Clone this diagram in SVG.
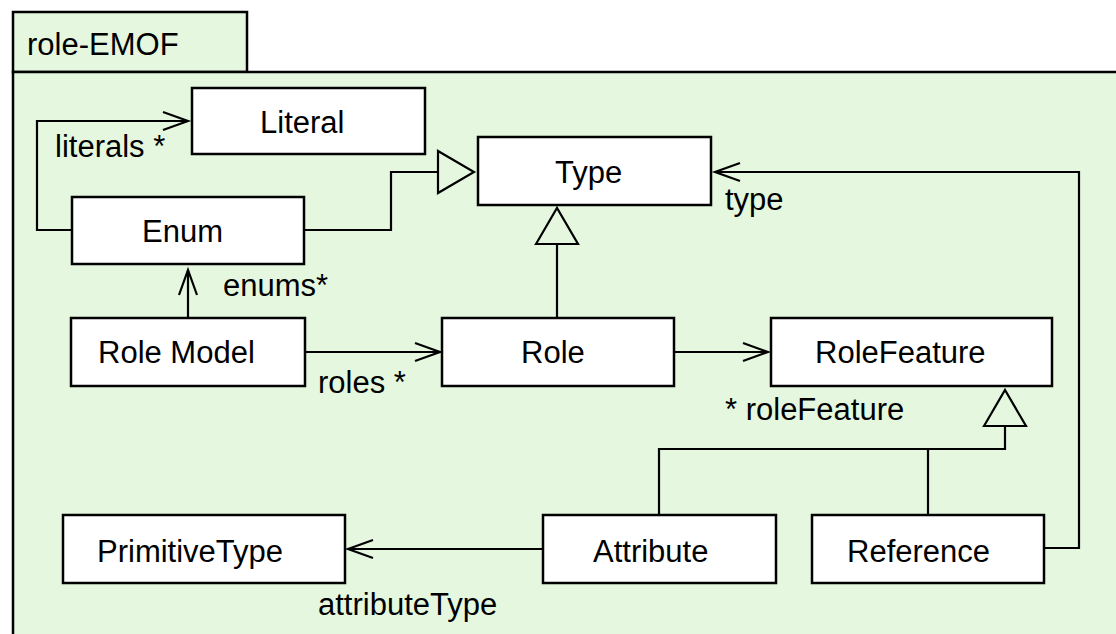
<svg xmlns="http://www.w3.org/2000/svg" width="1116" height="634" viewBox="0 0 1116 634">
  <style>
    .frame { fill: #e5f8df; stroke: #000; stroke-width: 2.5; }
    .box { fill: #fff; stroke: #000; stroke-width: 2.5; }
    .lbl { font-family: "Liberation Sans", Arial, sans-serif; font-size: 31px; fill: #000; }
    .edge { fill: none; stroke: #000; stroke-width: 2.2; }
  </style>
  <defs>
    <!-- navigable association end: open arrowhead -->
    <marker id="open" markerUnits="userSpaceOnUse" viewBox="-28 -12 32 24" markerWidth="32" markerHeight="24" refX="0" refY="0" orient="auto" overflow="visible">
      <path d="M-25,-9 L0,0 L-25,9" fill="none" stroke="#000" stroke-width="2.2"/>
    </marker>
    <!-- generalization: hollow triangle placed from the line end forward -->
    <marker id="gen" markerUnits="userSpaceOnUse" viewBox="-2 -24 42 48" markerWidth="42" markerHeight="48" refX="0" refY="0" orient="auto" overflow="visible">
      <path d="M0,-21 L36,0 L0,21 Z" fill="none" stroke="#000" stroke-width="2.2"/>
    </marker>
  </defs>

  <!-- package frame -->
  <g id="package">
    <rect class="frame" x="13" y="12" width="234" height="60"/>
    <rect class="frame" x="13" y="72" width="1120" height="580"/>
    <text class="lbl" x="27" y="55">role-EMOF</text>
  </g>

  <!-- connectors -->
  <g id="connectors">
    <polyline class="edge" points="72,230 37,230 37,121 188,121" marker-end="url(#open)"/>
    <polyline class="edge" points="304,230 391,230 391,172 438,172" marker-end="url(#gen)"/>
    <line class="edge" x1="188" y1="318" x2="188" y2="270" marker-end="url(#open)"/>
    <line class="edge" x1="557" y1="318" x2="557" y2="244" marker-end="url(#gen)"/>
    <line class="edge" x1="305" y1="352" x2="440" y2="352" marker-end="url(#open)"/>
    <line class="edge" x1="674" y1="352" x2="768" y2="352" marker-end="url(#open)"/>
    <polyline class="edge" points="1044,548 1079,548 1079,172 715,172" marker-end="url(#open)"/>
    <line class="edge" x1="543" y1="549" x2="348" y2="549" marker-end="url(#open)"/>
    <polyline class="edge" points="659,515 659,449 1005,449 1005,426" marker-end="url(#gen)"/>
    <line class="edge" x1="928" y1="515" x2="928" y2="449"/>

    <text class="lbl" x="55" y="157">literals *</text>
    <text class="lbl" x="223" y="296">enums*</text>
    <text class="lbl" x="725" y="210">type</text>
    <text class="lbl" x="318" y="393">roles *</text>
    <text class="lbl" x="725" y="420">* roleFeature</text>
    <text class="lbl" x="318" y="615">attributeType</text>
  </g>

  <!-- classes -->
  <g id="literal">
    <rect class="box" x="192" y="88" width="233" height="66"/>
    <text class="lbl" x="260" y="133">Literal</text>
  </g>
  <g id="type">
    <rect class="box" x="478" y="137" width="233" height="68"/>
    <text class="lbl" x="555" y="183">Type</text>
  </g>
  <g id="enum">
    <rect class="box" x="72" y="197" width="232" height="67"/>
    <text class="lbl" x="142" y="242">Enum</text>
  </g>
  <g id="role-model">
    <rect class="box" x="71" y="318" width="234" height="68"/>
    <text class="lbl" x="98" y="363">Role Model</text>
  </g>
  <g id="role">
    <rect class="box" x="442" y="318" width="232" height="68"/>
    <text class="lbl" x="521" y="363">Role</text>
  </g>
  <g id="role-feature">
    <rect class="box" x="771" y="318" width="281" height="68"/>
    <text class="lbl" x="815" y="363">RoleFeature</text>
  </g>
  <g id="primitive-type">
    <rect class="box" x="63" y="515" width="282" height="68"/>
    <text class="lbl" x="97" y="562">PrimitiveType</text>
  </g>
  <g id="attribute">
    <rect class="box" x="543" y="515" width="233" height="68"/>
    <text class="lbl" x="593" y="562">Attribute</text>
  </g>
  <g id="reference">
    <rect class="box" x="812" y="515" width="232" height="68"/>
    <text class="lbl" x="847" y="562">Reference</text>
  </g>
</svg>
